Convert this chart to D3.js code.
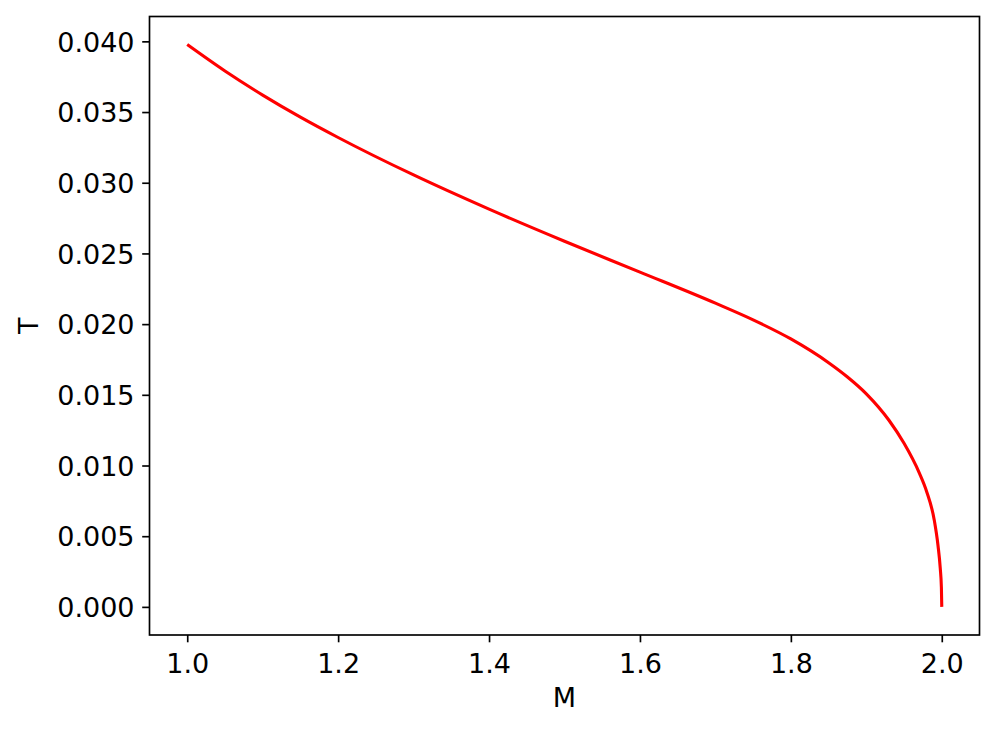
<!DOCTYPE html>
<html>
<head>
<meta charset="utf-8">
<script src="https://cdn.jsdelivr.net/npm/d3@7"></script>
<style>
  html, body { margin: 0; padding: 0; background: #fff; }
  svg { display: block; }
  text { font-family: "DejaVu Sans", sans-serif; fill: #000; }
</style>
</head>
<body>
<svg id="chart" width="997" height="741"></svg>
<script>
// Data
const massValues = [1.0, 1.05, 1.1, 1.15, 1.2, 1.3, 1.4, 1.5, 1.6, 1.7,
  1.75, 1.8, 1.85, 1.875, 1.9, 1.93, 1.95, 1.97, 1.98, 1.99, 1.995,
  1.998, 1.9995, 2.0];
const tempValues = [0.03977, 0.03790, 0.03620, 0.03464, 0.03320, 0.03055, 0.02813, 0.02586, 0.02368, 0.02148,
  0.02030, 0.01895, 0.01727, 0.01626, 0.01507, 0.01320, 0.01157, 0.00950, 0.00815, 0.00615, 0.00434,
  0.00272, 0.00136, 0.0];
const xTicks = [1.0, 1.2, 1.4, 1.6, 1.8, 2.0];
const yTicks = [0.000, 0.005, 0.010, 0.015, 0.020, 0.025, 0.030, 0.035, 0.040];
const xLabel = "M";
const yLabel = "T";

const svg = d3.select("#chart");
const plotLeft = 149.5, plotRight = 979.5, plotTop = 16.5, plotBottom = 635;

const xMin = d3.min(massValues), xMax = d3.max(massValues);
const yMin = d3.min(tempValues), yMax = d3.max(tempValues);
const xPad = (xMax - xMin) * 0.05, yPad = (yMax - yMin) * 0.05;

const x = d3.scaleLinear().domain([xMin - xPad, xMax + xPad]).range([plotLeft, plotRight]);
const y = d3.scaleLinear().domain([yMin - yPad, yMax + yPad]).range([plotBottom, plotTop]);

const data = massValues.map((m, i) => ({ m, t: tempValues[i] }));

// Line
const line = d3.line().x(d => x(d.m)).y(d => y(d.t)).curve(d3.curveMonotoneX);
svg.append("path")
  .datum(data)
  .attr("d", line)
  .attr("fill", "none")
  .attr("stroke", "#ff0000")
  .attr("stroke-width", 3.1)
  .attr("stroke-linecap", "butt");

// Frame
svg.append("rect")
  .attr("x", plotLeft).attr("y", plotTop)
  .attr("width", plotRight - plotLeft).attr("height", plotBottom - plotTop)
  .attr("fill", "none").attr("stroke", "#000").attr("stroke-width", 1.67);

// X axis
const xAxis = d3.axisBottom(x).tickValues(xTicks).tickFormat(d3.format(".1f"))
  .tickSize(7.3).tickPadding(7.3);
const gx = svg.append("g").attr("transform", `translate(0,${plotBottom})`).call(xAxis);
gx.select(".domain").remove();
gx.selectAll(".tick line").attr("stroke", "#000").attr("stroke-width", 1.67);
gx.selectAll(".tick text").attr("font-size", 27).attr("font-family", "DejaVu Sans")
  .attr("dy", null).attr("y", 38);

// Y axis
const yAxis = d3.axisLeft(y).tickValues(yTicks).tickFormat(d3.format(".3f"))
  .tickSize(7.3).tickPadding(7.3);
const gy = svg.append("g").attr("transform", `translate(${plotLeft},0)`).call(yAxis);
gy.select(".domain").remove();
gy.selectAll(".tick line").attr("stroke", "#000").attr("stroke-width", 1.67);
gy.selectAll(".tick text").attr("font-size", 27).attr("font-family", "DejaVu Sans")
  .attr("dy", "0.36em").attr("x", -15);

// Axis labels
svg.append("text")
  .attr("x", (plotLeft + plotRight) / 2).attr("y", 707)
  .attr("text-anchor", "middle").attr("font-size", 27)
  .text(xLabel);

svg.append("text")
  .attr("transform", `translate(38,${(plotTop + plotBottom) / 2}) rotate(-90)`)
  .attr("text-anchor", "middle").attr("font-size", 27)
  .text(yLabel);
</script>
</body>
</html>
